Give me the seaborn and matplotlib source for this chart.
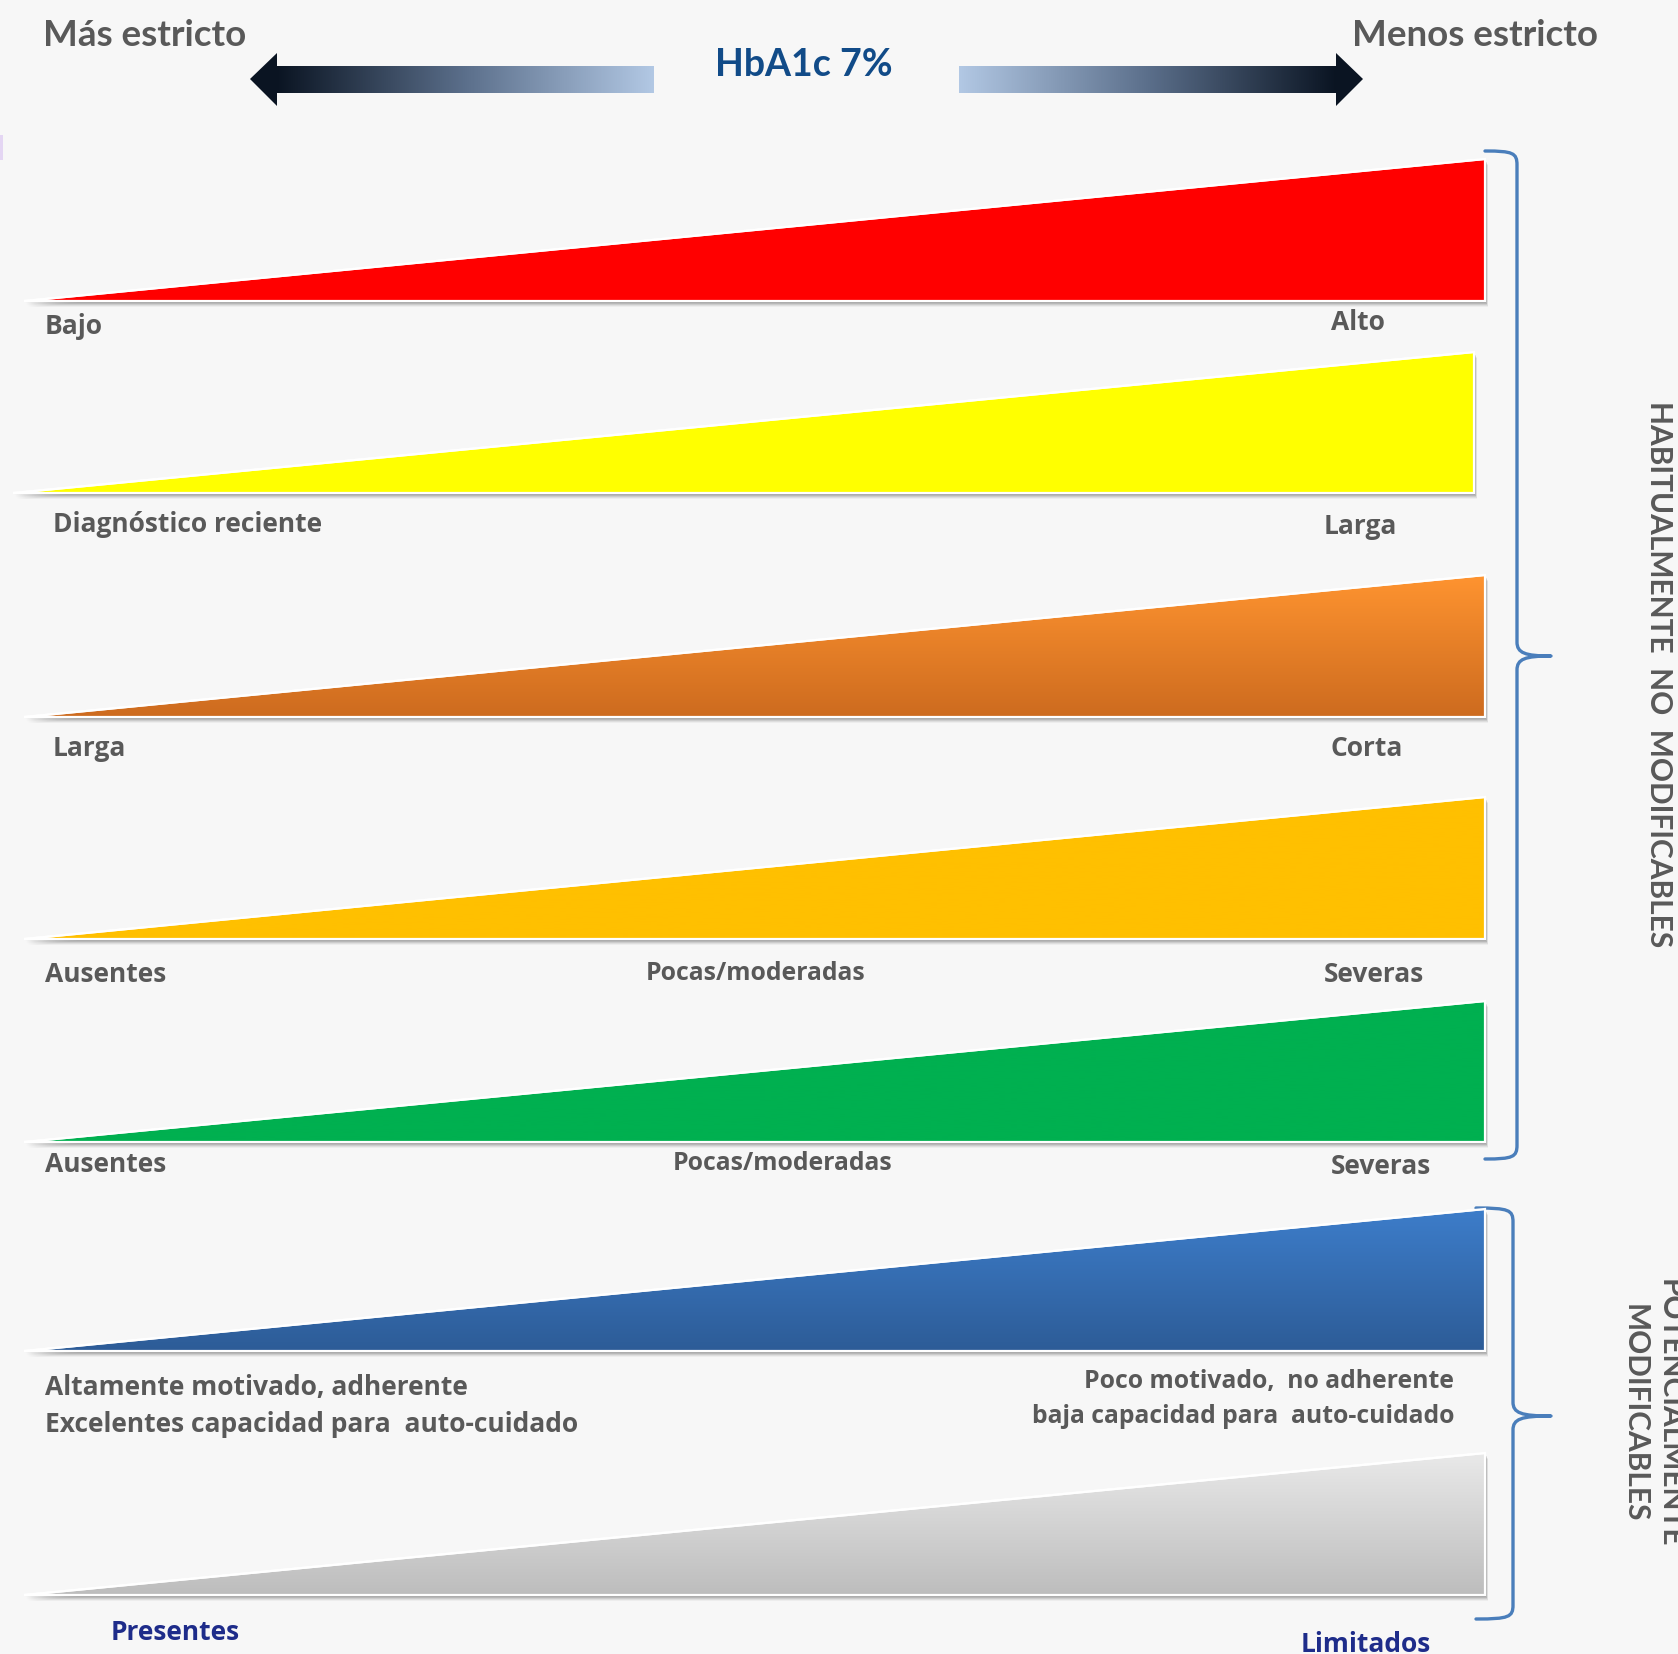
import numpy as np
import matplotlib
matplotlib.use("Agg")
import matplotlib.pyplot as plt
import seaborn as sns
from matplotlib.patches import Polygon, PathPatch, Rectangle
from matplotlib.path import Path
from matplotlib.colors import LinearSegmentedColormap
import matplotlib.transforms as mtransforms

# ---------------- data ----------------
wedge_x = [0.0, 1.0]          # ramp from "más estricto" to "menos estricto"
wedge_y = [0.0, 1.0]

left_labels = ["Bajo", "Diagnóstico reciente", "Larga", "Ausentes", "Ausentes",
               "Altamente motivado, adherente\nExcelentes capacidad para  auto-cuidado",
               "Presentes"]
mid_labels = ["", "", "", "Pocas/moderadas", "Pocas/moderadas", "", ""]
right_labels = ["Alto", "Larga", "Corta", "Severas", "Severas",
                "Poco motivado,  no adherente\nbaja capacidad para  auto-cuidado",
                "Limitados"]
top_colors = ["#FF0000", "#FFFF00", "#FF9430", "#FFC000", "#00B050", "#3D7DCA", "#E9E9E9"]
bottom_colors = ["#FF0000", "#FFFF00", "#CD6B1F", "#FFC000", "#00B050", "#2D5C97", "#BDBDBD"]

header_left = "Más estricto"
header_right = "Menos estricto"
header_center = "HbA1c 7%"
group_labels = ["HABITUALMENTE  NO  MODIFICABLES", "POTENCIALMENTE\nMODIFICABLES"]

# ---------------- layout (pixels) ----------------
W, H = 1678, 1654
row_box = [  # left, right, top, bottom
    (24, 1485, 159, 301),
    (13, 1474, 352, 493),
    (24, 1485, 575, 717),
    (24, 1485, 797, 939),
    (24, 1485, 1001, 1142),
    (24, 1485, 1209, 1351),
    (24, 1485, 1453, 1595),
]
left_pos = [(45, 327), (53, 525), (53, 749), (45, 975), (45, 1164), (45, 1406), (111, 1633)]
mid_pos = [None, None, None, (646, 973), (673, 1164), None, None]
right_pos = [(1331, 323, "left"), (1324, 526, "left"), (1331, 749, "left"), (1324, 975, "left"),
             (1331, 1166, "left"), (1454, 1399, "right"), (1301, 1645, "left")]
right_sizes = [19, 19, 19, 19, 19, 17.8, 19]
label_colors = ["#595959"] * 6 + ["#1E2C8A"]

GRAY = "#595959"
BG = "#F7F7F7"
BRACE = "#4A7EBB"
LABEL_FONT = ["Open Sans", "DejaVu Sans"]

sns.set_theme(style="white")
plt.rcParams["font.family"] = ["Lato", "DejaVu Sans"]

fig = plt.figure(figsize=(W / 100, H / 100), dpi=100, facecolor=BG)
ax0 = fig.add_axes([0, 0, 1, 1])
ax0.set_xlim(0, W)
ax0.set_ylim(H, 0)
ax0.axis("off")
ax0.patch.set_visible(False)

# small mark at left edge
ax0.add_patch(Rectangle((0, 135), 3, 25, color="#E4D6F3", lw=0))

# ---------------- header arrows ----------------
arrow_cmap = LinearSegmentedColormap.from_list("arr", ["#0A1422", "#5B6F8B", "#B2C8E4"])
grad_h = np.linspace(0, 1, 256)[None, :]
# left arrow
ax0.imshow(grad_h, extent=[276, 654, 93, 66], cmap=arrow_cmap, aspect="auto", zorder=2)
ax0.add_patch(Polygon([(277, 53), (250, 79), (277, 106)], closed=True, color="#0A1422", lw=0, zorder=3))
# right arrow
ax0.imshow(grad_h[:, ::-1], extent=[959, 1337, 93, 66], cmap=arrow_cmap, aspect="auto", zorder=2)
ax0.add_patch(Polygon([(1336, 53), (1363, 79), (1336, 106)], closed=True, color="#0A1422", lw=0, zorder=3))

ax0.text(43, 35, header_left, fontsize=26.5, fontweight="bold", color=GRAY, ha="left", va="center")
ax0.text(1598, 35, header_right, fontsize=26.5, fontweight="bold", color=GRAY, ha="right", va="center")
ax0.text(804, 65, header_center, fontsize=27, fontweight="bold", color="#114B88", ha="center", va="center")


# ---------------- braces ----------------
def brace(x_hook, x_v, x_tip, y_top, y_mid, y_bot, r=14):
    verts = [
        (x_hook, y_top),
        (x_v - 4, y_top), (x_v, y_top + 2), (x_v, y_top + r),
        (x_v, y_mid - r),
        (x_v, y_mid - 3), (x_v + 8, y_mid), (x_tip, y_mid),
        (x_v + 8, y_mid), (x_v, y_mid + 3), (x_v, y_mid + r),
        (x_v, y_bot - r),
        (x_v, y_bot - 2), (x_v - 4, y_bot), (x_hook, y_bot),
    ]
    codes = [Path.MOVETO, Path.CURVE4, Path.CURVE4, Path.CURVE4, Path.LINETO,
             Path.CURVE4, Path.CURVE4, Path.CURVE4, Path.CURVE4, Path.CURVE4, Path.CURVE4,
             Path.LINETO, Path.CURVE4, Path.CURVE4, Path.CURVE4]
    ax0.add_patch(PathPatch(Path(verts, codes), fill=False, edgecolor=BRACE, lw=2.4,
                            capstyle="round", joinstyle="round", zorder=3))


brace(1485, 1517, 1551, 151, 656, 1159)
brace(1476, 1513, 1551, 1208, 1416, 1619)

ax0.text(1659, 674, group_labels[0], rotation=270, fontsize=21.5, fontweight="bold",
         color=GRAY, ha="center", va="center", rotation_mode="anchor")
ax0.text(1652, 1413, group_labels[1], rotation=270, fontsize=21.5, fontweight="bold",
         color=GRAY, ha="center", va="center", multialignment="center", linespacing=1.3,
         rotation_mode="anchor")

# ---------------- wedges ----------------
grad_v = np.linspace(0, 1, 256)[:, None]
for i, (l, r, t, b) in enumerate(row_box):
    ax = fig.add_axes([l / W, 1 - b / H, (r - l) / W, (b - t) / H])
    ax.set_xlim(0, 1)
    ax.set_ylim(0, 1)
    ax.axis("off")
    ax.patch.set_visible(False)

    xs = [wedge_x[0], wedge_x[1], wedge_x[1]]
    ys = [wedge_y[0], wedge_y[0], wedge_y[1]]

    # soft drop shadow
    for dx, dy, a in [(1, -2, 0.10), (2, -3, 0.10), (2, -4, 0.08), (3, -5, 0.06), (3, -6, 0.04)]:
        tr = mtransforms.offset_copy(ax.transData, fig=fig, x=dx, y=dy, units="dots")
        ax.add_patch(Polygon(list(zip(xs, ys)), closed=True, transform=tr, facecolor="black",
                             alpha=a, lw=0, clip_on=False, zorder=0.5))

    poly = Polygon(list(zip(xs, ys)), closed=True, facecolor=bottom_colors[i], lw=0,
                   clip_on=False, zorder=1)
    ax.add_patch(poly)
    cmap = LinearSegmentedColormap.from_list(f"w{i}", [bottom_colors[i], top_colors[i]])
    img = ax.imshow(grad_v, extent=[0, 1, 0, 1], origin="lower", cmap=cmap, aspect="auto", zorder=2)
    img.set_clip_path(poly)
    ax.add_patch(Polygon(list(zip(xs, ys)), closed=True, fill=False, edgecolor="white", lw=1.6,
                         clip_on=False, zorder=3, joinstyle="miter"))
    sns.lineplot(x=wedge_x, y=wedge_y, ax=ax, color="white", lw=1.6, zorder=4, legend=False)
    ax.set_xlim(0, 1)
    ax.set_ylim(0, 1)
    ax.axis("off")

    # labels
    lx, ly = left_pos[i]
    ax0.text(lx, ly, left_labels[i], fontsize=19, fontweight="bold", color=label_colors[i],
             family=LABEL_FONT, ha="left", va="center", linespacing=1.5, zorder=5)
    if mid_labels[i]:
        mx, my = mid_pos[i]
        ax0.text(mx, my, mid_labels[i], fontsize=17.8, fontweight="bold", color=GRAY,
                 family=LABEL_FONT, ha="left", va="center", zorder=5)
    rx, ry, rha = right_pos[i]
    ax0.text(rx, ry, right_labels[i], fontsize=right_sizes[i], fontweight="bold", color=label_colors[i],
             family=LABEL_FONT, ha=rha, va="center", multialignment=rha, linespacing=1.5, zorder=5)

fig.savefig("out.png", dpi=100, facecolor=BG)
